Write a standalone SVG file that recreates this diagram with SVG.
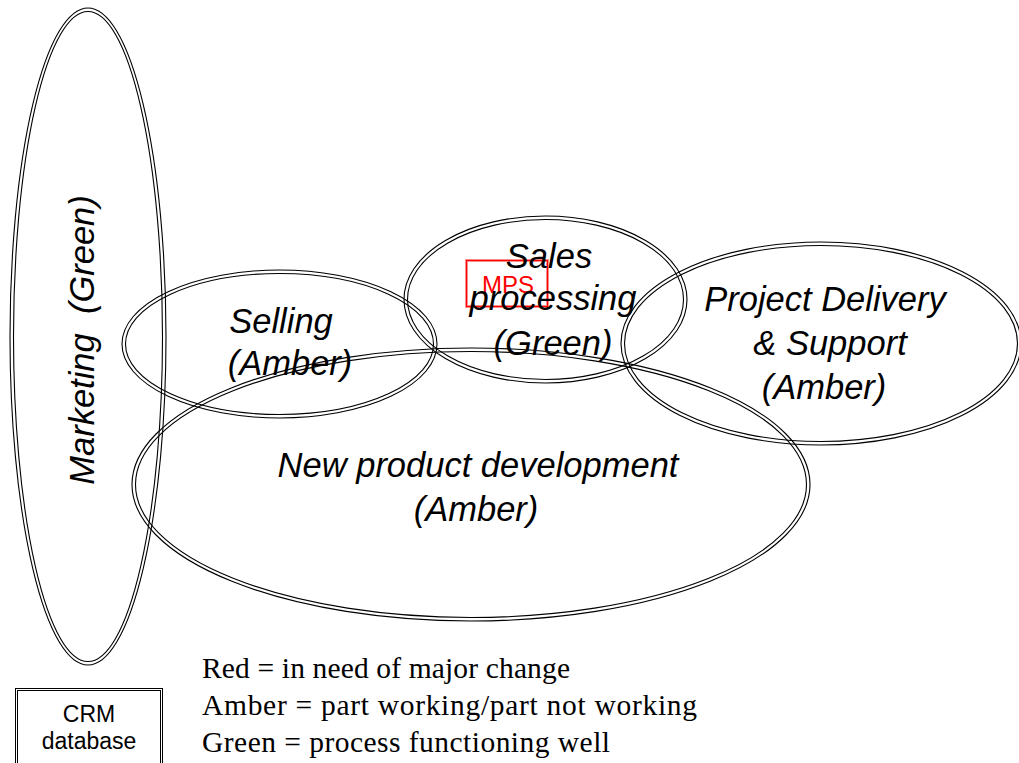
<svg xmlns="http://www.w3.org/2000/svg" width="1019" height="763" viewBox="0 0 1019 763">
<style>
.o{fill:none;stroke:#000;stroke-width:1.1}
.t{font-family:"Liberation Sans",Arial,sans-serif;font-style:italic;font-size:34.5px;fill:#000;text-anchor:middle}
.lg{font-family:"Liberation Serif","Times New Roman",serif;font-size:29.5px;fill:#000}
.crm{font-family:"Liberation Sans",Arial,sans-serif;font-size:23px;fill:#000;text-anchor:middle}
</style>
<rect width="1019" height="763" fill="#fff"/>
<g id="marketing">
<ellipse class="o" cx="88" cy="336.5" rx="78" ry="328.5"/>
<ellipse class="o" cx="88" cy="336.5" rx="74.5" ry="325"/>
<text class="t" transform="translate(94,340) rotate(-90)" font-size="36" xml:space="preserve">Marketing  (Green)</text>
</g>
<g id="selling">
<ellipse class="o" cx="279.5" cy="344" rx="157.5" ry="74"/>
<ellipse class="o" cx="279.5" cy="344" rx="154" ry="70.5"/>
<text class="t" x="281" y="333">Selling</text>
<text class="t" x="290" y="375">(Amber)</text>
</g>
<g id="mps">
<rect x="466.5" y="260.5" width="81" height="46" fill="none" stroke="#f00" stroke-opacity="0.45" stroke-width="3"/>
<rect x="466.5" y="260.5" width="81" height="46" fill="none" stroke="#f00" stroke-width="1"/>
<text x="508" y="293" font-family="Liberation Sans,Arial,sans-serif" font-size="24" fill="#f00" text-anchor="middle">MPS</text>
</g>
<g id="sales">
<ellipse class="o" cx="545.5" cy="299.5" rx="141.5" ry="83.5"/>
<ellipse class="o" cx="545.5" cy="299.5" rx="138" ry="80"/>
<text class="t" x="549" y="268">Sales</text>
<text class="t" x="553" y="310">processing</text>
<text class="t" x="553" y="355">(Green)</text>
</g>
<g id="project">
<ellipse class="o" cx="821" cy="343.5" rx="200" ry="101.5"/>
<ellipse class="o" cx="821" cy="343.5" rx="196.5" ry="98"/>
<text class="t" x="825" y="311">Project Delivery</text>
<text class="t" x="830" y="355">&amp; Support</text>
<text class="t" x="824" y="399">(Amber)</text>
</g>
<g id="npd">
<ellipse class="o" cx="471" cy="484.5" rx="339" ry="136.5"/>
<ellipse class="o" cx="471" cy="484.5" rx="335.5" ry="133"/>
<text class="t" x="478" y="477">New product development</text>
<text class="t" x="476" y="521">(Amber)</text>
</g>
<g id="crm">
<rect x="15.5" y="688.5" width="147" height="80" fill="none" stroke="#000" stroke-width="1"/>
<rect x="17.5" y="690.5" width="143" height="80" fill="none" stroke="#000" stroke-width="1"/>
<text class="crm" x="89" y="722">CRM</text>
<text class="crm" x="89" y="749">database</text>
</g>
<g id="legend">
<text class="lg" x="202" y="678" textLength="368" lengthAdjust="spacing">Red = in need of major change</text>
<text class="lg" x="202" y="715" textLength="495" lengthAdjust="spacing">Amber = part working/part not working</text>
<text class="lg" x="202" y="752" textLength="408" lengthAdjust="spacing">Green = process functioning well</text>
</g>
<g id="connectors"></g>
</svg>
